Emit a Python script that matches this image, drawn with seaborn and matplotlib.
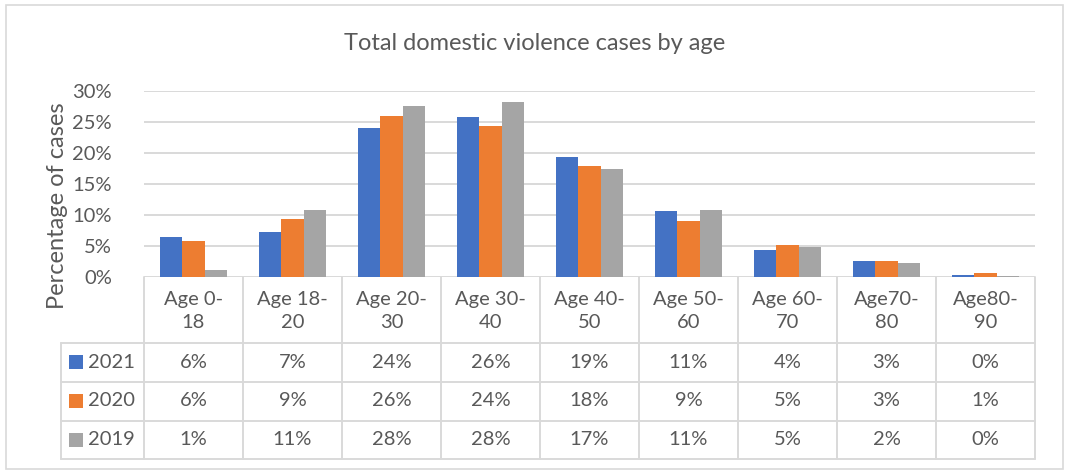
import numpy as np
import pandas as pd
import matplotlib
matplotlib.use("Agg")
import matplotlib.pyplot as plt
import matplotlib.transforms as mtransforms
from matplotlib.patches import Rectangle
from matplotlib.ticker import PercentFormatter, MultipleLocator
import seaborn as sns

# ---------------- data ----------------
categories = ["Age 0-\n18", "Age 18-\n20", "Age 20-\n30", "Age 30-\n40", "Age 40-\n50",
              "Age 50-\n60", "Age 60-\n70", "Age70-\n80", "Age80-\n90"]
years = ["2021", "2020", "2019"]
values_2021 = [6.4, 7.2, 24.0, 25.8, 19.3, 10.6, 4.4, 2.6, 0.3]
values_2020 = [5.8, 9.3, 26.0, 24.4, 17.9, 9.0, 5.2, 2.6, 0.7]
values_2019 = [1.2, 10.8, 27.6, 28.2, 17.4, 10.8, 4.9, 2.3, 0.1]
series = {"2021": values_2021, "2020": values_2020, "2019": values_2019}
colors = ["#4472C4", "#ED7D31", "#A5A5A5"]

df = pd.DataFrame([(c, y, v) for y in years for c, v in zip(categories, series[y])],
                  columns=["category", "year", "value"])

# ---------------- style ----------------
sns.set_theme(style="white")
plt.rcParams["font.family"] = ["Lato", "DejaVu Sans"]
TXT = "#595959"
GRID = "#D9D9D9"
FS = 14.5

W, H = 1065, 470
fig = plt.figure(figsize=(W / 100, H / 100), dpi=100)

# overlay in pixel coordinates (y downward)
ov = fig.add_axes([0, 0, 1, 1])
ov.set_xlim(0, W)
ov.set_ylim(H, 0)
ov.axis("off")
ov.patch.set_alpha(0)

# plot area: x 144..1035 px, y 91..277 px
x0, x1, ytop, ybot = 144, 1035, 91, 277
ax = fig.add_axes([x0 / W, 1 - ybot / H, (x1 - x0) / W, (ybot - ytop) / H])
ax.patch.set_alpha(0)

sns.barplot(data=df, x="category", y="value", hue="year", order=categories,
            hue_order=years, palette=colors, width=0.667, saturation=1,
            legend=False, ax=ax, linewidth=0, errorbar=None)

ax.set_xlim(-0.5, len(categories) - 0.5)
ax.set_ylim(0, 30)
ax.yaxis.set_major_locator(MultipleLocator(5))
ax.yaxis.set_major_formatter(PercentFormatter(xmax=100, decimals=0))
ax.grid(axis="y", color=GRID, linewidth=1.4)
ax.grid(axis="x", visible=False)
ax.set_axisbelow(True)
for s in ax.spines.values():
    s.set_visible(False)
ax.set_xlabel("")
ax.set_ylabel("")
ax.set_xticks([])
ax.tick_params(axis="y", length=0, pad=23, labelsize=FS, labelcolor=TXT)

# ---------------- data table ----------------
blend = mtransforms.blended_transform_factory(ax.transData, ov.transData)
n = len(categories)
col_w = (x1 - x0) / n
leg_left = -0.5 - (x0 - 61) / col_w
head_bot = 343
row_edges = [343, 381.5, 420.5, 459]

lkw = dict(color=GRID, linewidth=1.4, transform=blend, clip_on=False)
for i in range(n + 1):
    ov.plot([i - 0.5, i - 0.5], [ybot, row_edges[-1]], **lkw)
ov.plot([leg_left, leg_left], [head_bot, row_edges[-1]], **lkw)
for ye in row_edges:
    ov.plot([leg_left, n - 0.5], [ye, ye], **lkw)

for i, c in enumerate(categories):
    ov.text(i, (ybot + head_bot) / 2 + 1, c, ha="center", va="center",
            fontsize=FS, color=TXT, transform=blend, linespacing=1.4)

for r, (y, col) in enumerate(zip(years, colors)):
    yc = (row_edges[r] + row_edges[r + 1]) / 2
    sq = 14 / col_w
    ov.add_patch(Rectangle((-0.5 - (x0 - 69) / col_w, yc - 7), sq, 14,
                           facecolor=col, edgecolor="none", transform=blend))
    ov.text(-0.5 - (x0 - 88) / col_w, yc, y, ha="left", va="center",
            fontsize=FS, color=TXT, transform=blend)
    for i, v in enumerate(series[y]):
        ov.text(i, yc, f"{round(v):.0f}%", ha="center", va="center",
                fontsize=FS, color=TXT, transform=blend)

# ---------------- titles & border ----------------
ov.text(535, 43, "Total domestic violence cases by age", ha="center", va="center",
        fontsize=17, color=TXT)
ov.text(58, 206, "Percentage of cases", ha="center", va="center", rotation=90,
        fontsize=17, color=TXT)
ov.add_patch(Rectangle((6, 5), 1057, 464, facecolor="none", edgecolor=GRID, linewidth=1.2))

fig.savefig("out.png", dpi=100)
